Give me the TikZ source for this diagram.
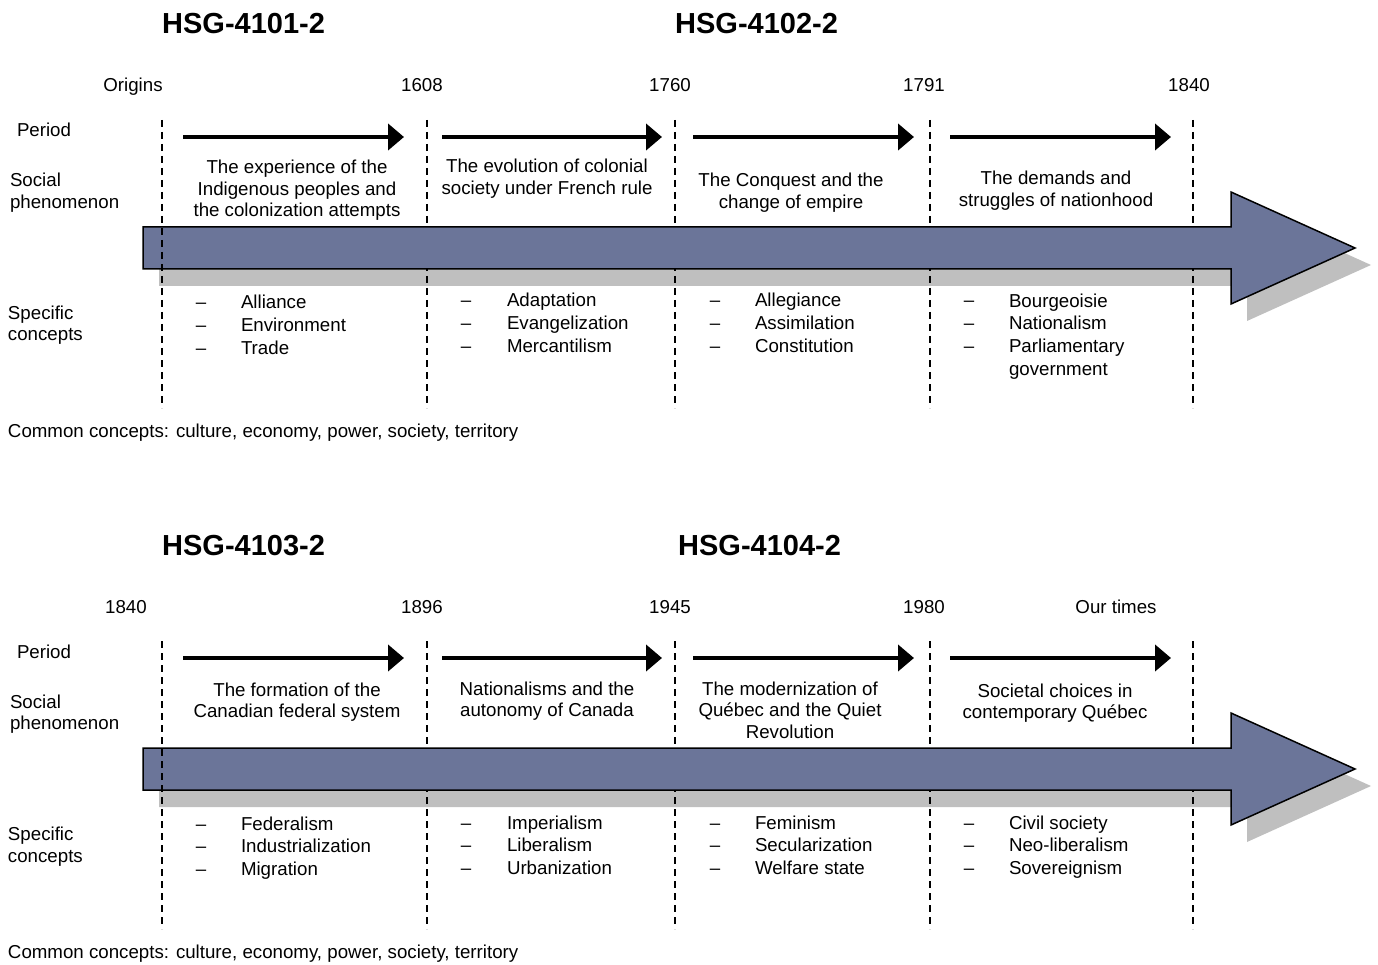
\documentclass[tikz,border=0pt]{standalone}
\usepackage{fontspec}
\setmainfont{Liberation Sans}
\usetikzlibrary{arrows.meta}
\definecolor{barblue}{HTML}{6B7599}
\definecolor{shadowgray}{HTML}{BFBFBF}
\begin{document}
\begin{tikzpicture}[x=1pt,y=-1pt,
  txt/.style={font=\fontsize{18.7}{21.5}\selectfont, inner sep=0pt, outer sep=0pt},
  head/.style={font=\fontsize{29}{34}\selectfont\bfseries, inner sep=0pt, anchor=base west},
  datelbl/.style={txt, anchor=base},
  rowlbl/.style={txt, anchor=base west, align=left},
  phen/.style={txt, anchor=base, align=center},
  conc/.style={txt, font=\fontsize{18.7}{22.8}\selectfont, anchor=base west, align=left},
  dashcol/.style={txt, font=\fontsize{18.7}{22.8}\selectfont, anchor=base, align=center},
  divider/.style={dash pattern=on 7pt off 5pt, line width=1.8pt},
  period/.style={line width=4.5pt, -{Triangle[length=16pt,width=26pt]}},
  bigarrow/.style={fill=barblue, draw=black, line width=1.5pt, line join=miter},
  bigshadow/.style={fill=shadowgray}
]
\useasboundingbox (0,0) rectangle (1378,965);

\foreach \o/\s in {0/a,521/b}{
  % shadow of the big arrow
  \fill[bigshadow] (159,244+\o) -- (1247,244+\o) -- (1247,209+\o) -- (1371,265+\o)
        -- (1247,321+\o) -- (1247,286+\o) -- (159,286+\o) -- cycle;
  % dividers behind the arrow
  \foreach \x/\n in {427/2,675/3,930/4,1193/5}{
    \coordinate (dt\s\n) at (\x,120+\o);
    \coordinate (db\s\n) at (\x,408+\o);
    \draw[divider] (dt\s\n) -- (db\s\n);
  }
  % big arrow
  \draw[bigarrow] (143,227+\o) -- (1231,227+\o) -- (1231,192+\o) -- (1355,248+\o)
        -- (1231,304+\o) -- (1231,269+\o) -- (143,269+\o) -- cycle;
  % first divider in front
  \coordinate (dt\s1) at (162,120+\o);
  \coordinate (db\s1) at (162,408+\o);
  \draw[divider] (dt\s1) -- (db\s1);
  % period arrows
  \foreach \xa/\xb/\n in {183/404/1,442/662/2,693/914/3,950/1171/4}{
    \coordinate (ps\s\n) at (\xa,137+\o);
    \coordinate (pe\s\n) at (\xb,137+\o);
    \draw[period] (ps\s\n) -- (pe\s\n);
  }
  % row labels (base = baseline of last line)
  \node[rowlbl] (period\s) at (17,137+\o) {Period};
  \node[rowlbl] (social\s) at (10,208.5+\o) {Social\\phenomenon};
  \node[rowlbl] (specific\s) at (8,341+\o) {Specific\\concepts};
  \node[rowlbl] (common\s) at (8,437+\o) {Common concepts: culture, economy, power, society, territory};
}

% ---------- top timeline ----------
\node[head] (h1) at (162,34) {HSG-4101-2};
\node[head] (h2) at (675,34) {HSG-4102-2};

\node[datelbl] (d1) at (133,92) {Origins};
\node[datelbl] (d2) at (422,92) {1608};
\node[datelbl] (d3) at (670,92) {1760};
\node[datelbl] (d4) at (924,92) {1791};
\node[datelbl] (d5) at (1189,92) {1840};

\node[phen] (ph1) at (297,217) {The experience of the\\Indigenous peoples and\\the colonization attempts};
\node[phen] (ph2) at (547,194.5) {The evolution of colonial\\society under French rule};
\node[phen] (ph3) at (791,208.5) {The Conquest and the\\change of empire};
\node[phen] (ph4) at (1056,206.5) {The demands and\\struggles of nationhood};

\node[dashcol] (m1) at (201,354.6) {–\\–\\–};
\node[conc] (c1) at (241,354.6) {Alliance\\Environment\\Trade};
\node[dashcol] (m2) at (466,352.6) {–\\–\\–};
\node[conc] (c2) at (507,352.6) {Adaptation\\Evangelization\\Mercantilism};
\node[dashcol] (m3) at (715,352.6) {–\\–\\–};
\node[conc] (c3) at (755,352.6) {Allegiance\\Assimilation\\Constitution};
\node[dashcol] (m4) at (969,352.6) {–\\–\\–};
\node[conc] (c4) at (1009,375.4) {Bourgeoisie\\Nationalism\\Parliamentary\\government};

% ---------- bottom timeline ----------
\node[head] (h3) at (162,555) {HSG-4103-2};
\node[head] (h4) at (678,555) {HSG-4104-2};

\node[datelbl] (e1) at (126,613) {1840};
\node[datelbl] (e2) at (422,613) {1896};
\node[datelbl] (e3) at (670,613) {1945};
\node[datelbl] (e4) at (924,613) {1980};
\node[datelbl] (e5) at (1116,613) {Our times};

\node[phen] (pb1) at (297,717.5) {The formation of the\\Canadian federal system};
\node[phen] (pb2) at (547,716.5) {Nationalisms and the\\autonomy of Canada};
\node[phen] (pb3) at (790,738) {The modernization of\\Québec and the Quiet\\Revolution};
\node[phen] (pb4) at (1055,718.5) {Societal choices in\\contemporary Québec};

\node[dashcol] (n1) at (201,875.6) {–\\–\\–};
\node[conc] (k1) at (241,875.6) {Federalism\\Industrialization\\Migration};
\node[dashcol] (n2) at (466,874.6) {–\\–\\–};
\node[conc] (k2) at (507,874.6) {Imperialism\\Liberalism\\Urbanization};
\node[dashcol] (n3) at (715,874.6) {–\\–\\–};
\node[conc] (k3) at (755,874.6) {Feminism\\Secularization\\Welfare state};
\node[dashcol] (n4) at (969,874.6) {–\\–\\–};
\node[conc] (k4) at (1009,874.6) {Civil society\\Neo-liberalism\\Sovereignism};
\end{tikzpicture}
\end{document}
